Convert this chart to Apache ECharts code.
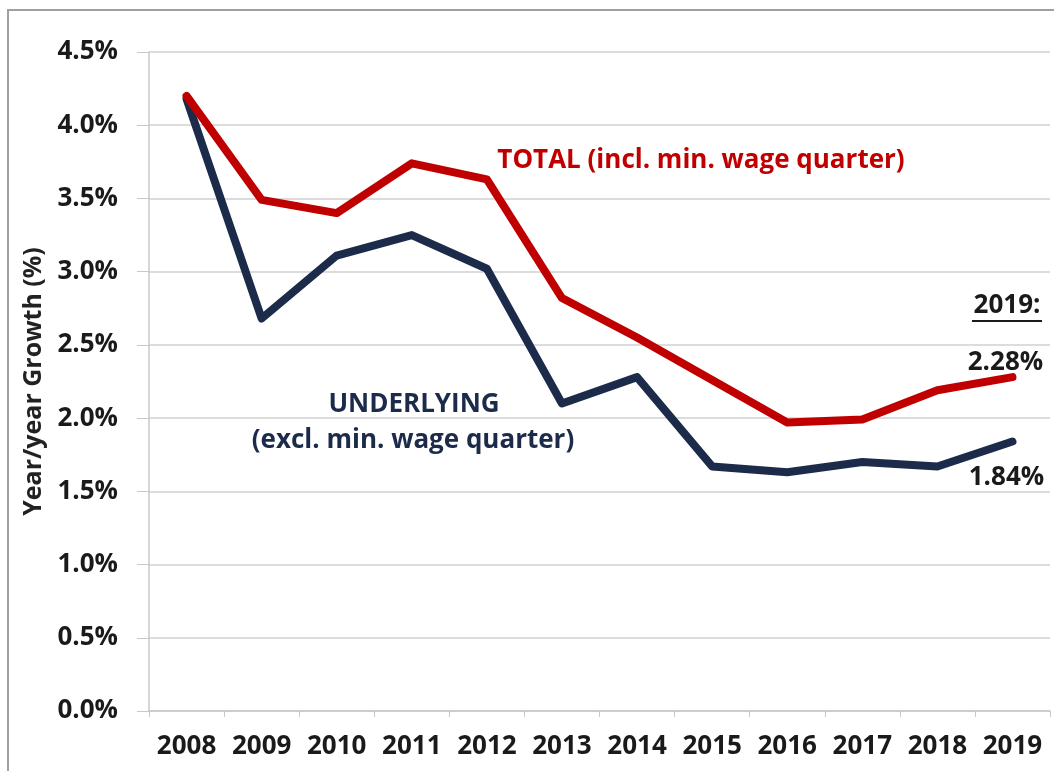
<!DOCTYPE html>
<html>
<head>
<meta charset="utf-8">
<script src="https://cdn.jsdelivr.net/npm/echarts@6/dist/echarts.min.js"></script>
<style>
  html, body { margin: 0; padding: 0; background: #fff; }
  #chart { width: 1054px; height: 771px; }
</style>
</head>
<body>
<div id="chart"></div>
<script>
// Annual wage growth, year over year (%)
const years = ['2008', '2009', '2010', '2011', '2012', '2013', '2014', '2015', '2016', '2017', '2018', '2019'];
const totalGrowth = [4.20, 3.49, 3.40, 3.74, 3.63, 2.82, 2.55, 2.26, 1.97, 1.99, 2.19, 2.28];
const underlyingGrowth = [4.18, 2.68, 3.11, 3.25, 3.02, 2.10, 2.28, 1.67, 1.63, 1.70, 1.67, 1.84];

const RED = '#c00000';
const NAVY = '#1c2b4a';
const INK = '#1a1a1a';
const FONT = '"Open Sans"';

// Only the latest year carries a symbol anchor and a value label
function withLastLabel(values, color, labelOpts) {
  return values.map((v, i) => i === values.length - 1
    ? {
        value: v,
        symbol: 'circle',
        symbolSize: 2,
        itemStyle: { color: color },
        label: Object.assign({ show: true }, labelOpts)
      }
    : { value: v, symbol: 'none' });
}

const valueLabel = {
  formatter: p => p.value.toFixed(2) + '%',
  color: INK, fontFamily: FONT, fontWeight: 'bold', fontSize: 26
};

const chart = echarts.init(document.getElementById('chart'), null, { renderer: 'canvas' });

chart.setOption({
  animation: false,
  backgroundColor: '#fff',
  grid: { left: 149, right: 4, top: 52, bottom: 60 },
  xAxis: {
    type: 'category',
    data: years,
    boundaryGap: true,
    axisLine: { lineStyle: { color: '#c8c8c8', width: 1.5 } },
    axisTick: { show: true, alignWithLabel: false, length: 6, lineStyle: { color: '#c8c8c8' } },
    axisLabel: {
      interval: 0, color: INK, fontFamily: FONT, fontWeight: 'bold', fontSize: 26, margin: 23
    },
    splitLine: { show: false }
  },
  yAxis: {
    type: 'value',
    min: 0, max: 4.5, interval: 0.5,
    name: 'Year/year Growth (%)',
    nameLocation: 'middle',
    nameGap: 100,
    nameTextStyle: { color: '#222', fontFamily: FONT, fontWeight: 'bold', fontSize: 25 },
    axisLine: { show: true, lineStyle: { color: '#c8c8c8', width: 1.5 } },
    axisTick: { show: true, length: 12, lineStyle: { color: '#c8c8c8' } },
    axisLabel: {
      color: INK, fontFamily: FONT, fontWeight: 'bold', fontSize: 26, margin: 31,
      formatter: v => v.toFixed(1) + '%'
    },
    splitLine: { show: true, lineStyle: { color: '#d0d0d0', width: 1.5 } }
  },
  series: [
    {
      name: 'TOTAL',
      type: 'line',
      data: withLastLabel(totalGrowth, RED,
        Object.assign({ position: 'top', offset: [-7, 4] }, valueLabel)),
      showSymbol: true,
      lineStyle: { color: RED, width: 8, join: 'round', cap: 'round' },
      z: 3
    },
    {
      name: 'UNDERLYING',
      type: 'line',
      data: withLastLabel(underlyingGrowth, NAVY,
        Object.assign({ position: 'bottom', offset: [-6, 17] }, valueLabel)),
      showSymbol: true,
      lineStyle: { color: NAVY, width: 8, join: 'round', cap: 'round' },
      z: 2
    }
  ],
  graphic: [
    {
      type: 'rect', silent: true, z: -1,
      shape: { x: 8, y: 10, width: 1100, height: 800 },
      style: { fill: 'none', stroke: '#a0a0a0', lineWidth: 2 }
    },
    {
      type: 'text', x: 701, y: 161,
      style: { text: 'TOTAL (incl. min. wage quarter)', fill: RED, font: 'bold 26px "Open Sans"', align: 'center', verticalAlign: 'middle' }
    },
    {
      type: 'text', x: 414, y: 405,
      style: { text: 'UNDERLYING', fill: NAVY, font: 'bold 26px "Open Sans"', align: 'center', verticalAlign: 'middle' }
    },
    {
      type: 'text', x: 413, y: 441,
      style: { text: '(excl. min. wage quarter)', fill: NAVY, font: 'bold 26px "Open Sans"', align: 'center', verticalAlign: 'middle' }
    },
    {
      type: 'text', x: 1007, y: 306,
      style: { text: '2019:', fill: INK, font: 'bold 26px "Open Sans"', align: 'center', verticalAlign: 'middle' }
    },
    {
      type: 'line', silent: true,
      shape: { x1: 972, y1: 321, x2: 1042, y2: 321 },
      style: { stroke: INK, lineWidth: 2 }
    }
  ]
});
</script>
</body>
</html>
